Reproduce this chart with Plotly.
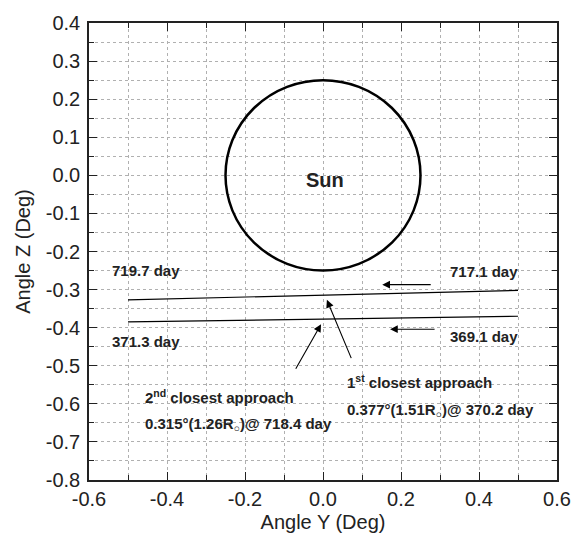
import plotly.graph_objects as go

# ---- data ----
traj_x = [-0.5, 0.5]
traj1_y = [-0.327, -0.302]   # 717.1 -> 719.7 day pass
traj2_y = [-0.385, -0.370]   # 369.1 -> 371.3 day pass

sun_radius = 0.25

label_text = ["719.7 day", "717.1 day", "371.3 day", "369.1 day"]
label_x = [-0.545, 0.505, -0.545, 0.505]
label_y = [-0.25, -0.253, -0.436, -0.423]
label_anchor = ["left", "right", "left", "right"]

arrow_tail_x = [0.28, 0.29, 0.074, -0.072]
arrow_tail_y = [-0.287, -0.404, -0.484, -0.512]
arrow_head_x = [0.152, 0.172, 0.010, -0.005]
arrow_head_y = [-0.287, -0.404, -0.327, -0.391]

approach_text = ["2<sup>nd</sup> closest approach",
                 "0.315°(1.26R<sub>○</sub>)@ 718.4 day",
                 "1<sup>st</sup> closest approach",
                 "0.377°(1.51R<sub>○</sub>)@ 370.2 day"]
approach_x = [-0.462, -0.462, 0.057, 0.057]
approach_y = [-0.58, -0.653, -0.542, -0.617]

x_ticks = [-0.6, -0.4, -0.2, 0.0, 0.2, 0.4, 0.6]
x_ticktext = ["-0.6", "-0.4", "-0.2", "0.0", "0.2", "0.4", "0.6"]
x_minor = [-0.5, -0.3, -0.1, 0.1, 0.3, 0.5]
y_ticks = [0.4, 0.3, 0.2, 0.1, 0.0, -0.1, -0.2, -0.3, -0.4, -0.5, -0.6, -0.7, -0.8]
y_ticktext = ["0.4", "0.3", "0.2", "0.1", "0.0", "-0.1", "-0.2", "-0.3", "-0.4",
              "-0.5", "-0.6", "-0.7", "-0.8"]
y_minor = [0.35, 0.25, 0.15, 0.05, -0.05, -0.15, -0.25, -0.35, -0.45, -0.55, -0.65, -0.75]

FONT = "Liberation Sans"

fig = go.Figure()
for ty in (traj1_y, traj2_y):
    fig.add_trace(go.Scatter(x=traj_x, y=ty, mode="lines",
                             line=dict(color="black", width=1.2),
                             showlegend=False, hoverinfo="skip"))

fig.add_shape(type="circle", xref="x", yref="y",
              x0=-sun_radius, x1=sun_radius, y0=-sun_radius, y1=sun_radius,
              line=dict(color="black", width=2.5))

fig.add_annotation(x=0.005, y=-0.012, text="<b>Sun</b>", showarrow=False,
                   font=dict(family=FONT, size=20, color="#222"))

for t, x, y, a in zip(label_text, label_x, label_y, label_anchor):
    fig.add_annotation(x=x, y=y, text="<b>" + t + "</b>", showarrow=False,
                       xanchor=a, font=dict(family=FONT, size=15, color="#222"))

for tx, ty, hx, hy in zip(arrow_tail_x, arrow_tail_y, arrow_head_x, arrow_head_y):
    fig.add_annotation(x=hx, y=hy, ax=tx, ay=ty, xref="x", yref="y",
                       axref="x", ayref="y", text="", showarrow=True,
                       arrowhead=2, arrowsize=1.4, arrowwidth=1.1, arrowcolor="black")

for t, x, y in zip(approach_text, approach_x, approach_y):
    fig.add_annotation(x=x, y=y, text="<b>" + t + "</b>", showarrow=False,
                       xanchor="left", font=dict(family=FONT, size=15, color="#222"))

axis_common = dict(showline=True, linecolor="#222", linewidth=1.5, mirror="ticks",
                   ticks="inside", ticklen=8, tickwidth=1.2, tickcolor="#222",
                   showgrid=True, gridcolor="#b0b0b0", griddash="dot", gridwidth=1,
                   zeroline=False, tickfont=dict(family=FONT, size=20, color="#222"),
                   title_font=dict(family=FONT, size=20, color="#222"))

fig.update_xaxes(range=[-0.6, 0.6], tickmode="array", tickvals=x_ticks,
                 ticktext=x_ticktext, title_text="Angle Y (Deg)", title_standoff=6,
                 ticklabelstandoff=0,
                 minor=dict(tickvals=x_minor, ticks="inside", ticklen=5,
                            tickcolor="#222", showgrid=True, gridcolor="#b0b0b0",
                            griddash="dot", gridwidth=1),
                 **axis_common)
fig.update_yaxes(range=[-0.8, 0.4], tickmode="array", tickvals=y_ticks,
                 ticktext=y_ticktext, title_text="Angle Z (Deg)", title_standoff=10,
                 ticklabelstandoff=3,
                 minor=dict(tickvals=y_minor, ticks="inside", ticklen=5,
                            tickcolor="#222", showgrid=True, gridcolor="#b0b0b0",
                            griddash="dot", gridwidth=1),
                 **axis_common)

fig.update_layout(width=586, height=544, margin=dict(l=89, r=29, t=15, b=64),
                  plot_bgcolor="white", paper_bgcolor="white", showlegend=False)

fig.write_html("out.html")
